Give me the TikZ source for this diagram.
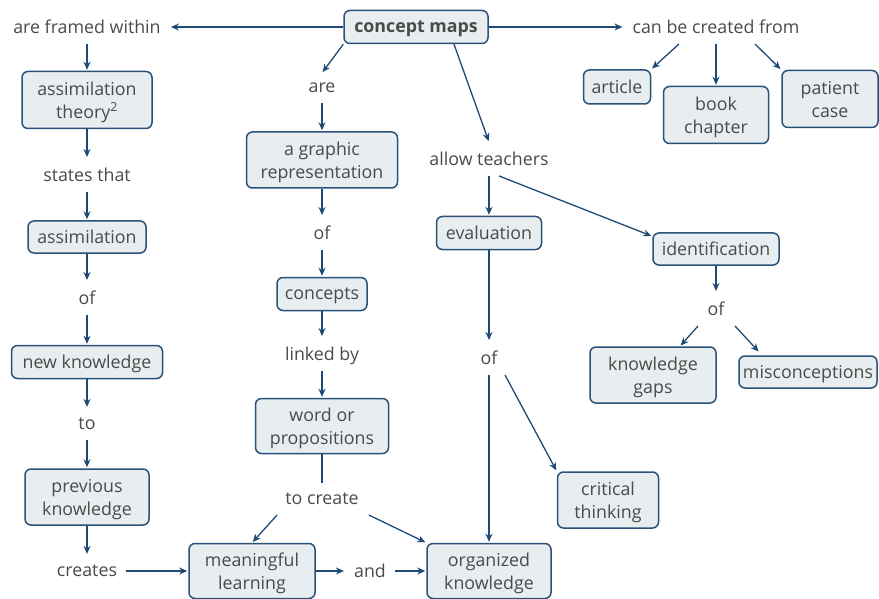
\documentclass[tikz,border=0pt]{standalone}
\usepackage{fontspec}
\setmainfont{Open Sans}
\usetikzlibrary{arrows.meta,calc}
\definecolor{edgeblue}{HTML}{1F4A75}
\definecolor{boxline}{HTML}{2A5279}
\definecolor{boxfill}{HTML}{E8EEF0}
\definecolor{inkgrey}{HTML}{4A4A4A}
\tikzset{
  concept/.style={draw=boxline, fill=boxfill, line width=1.5pt, rounded corners=6pt,
    text=inkgrey, align=center, inner sep=2pt, text depth=0pt},
  linkword/.style={text=inkgrey, align=center, inner xsep=9pt, inner ysep=10pt, text depth=0pt},
  arr/.style={draw=edgeblue, line width=1.3pt, -{Stealth[length=8pt,width=7pt]}, shorten >=1pt},
  plainline/.style={draw=edgeblue, line width=1.3pt},
}
\begin{document}
\begin{tikzpicture}[x=1pt,y=-1pt,font=\fontsize{17.8}{23}\selectfont]
\useasboundingbox (0,0) rectangle (879,599);

% top row
\node[concept, minimum width=144pt, minimum height=33pt, font=\fontsize{17.8}{23}\selectfont\bfseries] (cm) at (416,27) {concept maps};
\node[linkword] (frame) at (87,27) {are framed within};
\node[linkword] (cbcf) at (716,27) {can be created from};
\node[concept, minimum width=67pt, minimum height=34pt] (article) at (617,87) {article};
\node[concept, minimum width=105pt, minimum height=57pt] (book) at (716,115) {book\\chapter};
\node[concept, minimum width=96pt, minimum height=57pt] (patient) at (830,99) {patient\\case};

% left column
\node[concept, minimum width=130pt, minimum height=57pt] (asth) at (87,100) {assimilation\\theory\textsuperscript{2}};
\node[linkword] (states) at (87,175) {states that};
\node[concept, minimum width=118pt, minimum height=32pt] (assim) at (87,237) {assimilation};
\node[linkword] (of1) at (87,298) {of};
\node[concept, minimum width=151pt, minimum height=33pt] (newk) at (87,362) {new knowledge};
\node[linkword] (to) at (87,424) {to};
\node[concept, minimum width=124pt, minimum height=56pt] (prevk) at (87,497) {previous\\knowledge};
\node[linkword] (creates) at (87,571) {creates};
\node[concept, minimum width=126pt, minimum height=55pt] (ml) at (252,571) {meaningful\\learning};
\node[linkword] (and) at (370,571) {and};
\node[concept, minimum width=124pt, minimum height=55pt] (ok) at (489,571) {organized\\knowledge};

% middle column
\node[linkword] (are) at (322,88) {are};
\node[concept, minimum width=151pt, minimum height=56pt] (agr) at (322,160) {a graphic\\representation};
\node[linkword] (of2) at (322,233) {of};
\node[concept, minimum width=90pt, minimum height=33pt] (conc) at (322,294) {concepts};
\node[linkword] (linked) at (322,354) {linked by};
\node[concept, minimum width=133pt, minimum height=55pt] (wop) at (322,426) {word or\\propositions};
\node[linkword] (tocreate) at (322,499) {to create};

% teachers branch
\node[linkword] (allow) at (489,159) {allow teachers};
\node[concept, minimum width=105pt, minimum height=33pt] (eval) at (489,233) {evaluation};
\node[linkword] (of3) at (489,358) {of};
\node[concept, minimum width=101pt, minimum height=56pt] (ct) at (608,500) {critical\\thinking};
\node[concept, minimum width=126pt, minimum height=32pt] (ident) at (716,249) {identification};
\node[linkword] (of4) at (716,309) {of};
\node[concept, minimum width=126pt, minimum height=56pt] (kg) at (653,375) {knowledge\\gaps};
\node[concept, minimum width=138pt, minimum height=32pt] (misc) at (808,372) {misconceptions};

% connectors
\draw[arr] (cm.west) -- (frame.east);
\draw[arr] (cm.east) -- (cbcf.west);
\draw[arr] ($(cbcf.south)+(-37,0)$) -- (article.north east);
\draw[arr] (cbcf.south) -- (book.north);
\draw[arr] ($(cbcf.south)+(39,0)$) -- (patient.north west);

\draw[arr] (frame.south) -- (asth.north);
\draw[arr] (asth.south) -- (states.north);
\draw[arr] (states.south) -- (assim.north);
\draw[arr] (assim.south) -- (of1.north);
\draw[arr] (of1.south) -- (newk.north);
\draw[arr] (newk.south) -- (to.north);
\draw[arr] (to.south) -- (prevk.north);
\draw[arr] (prevk.south) -- (creates.north);
\draw[arr] (creates.east) -- (ml.west);
\draw[arr] (ml.east) -- (and.west);
\draw[arr] (and.east) -- (ok.west);

\draw[arr] (cm.south west) -- (are.north);
\draw[arr] (are.south) -- (agr.north);
\draw[arr] (agr.south) -- (of2.north);
\draw[arr] (of2.south) -- (conc.north);
\draw[arr] (conc.south) -- (linked.north);
\draw[arr] (linked.south) -- (wop.north);
\draw[plainline] (wop.south) -- (tocreate.north);
\draw[arr] ($(tocreate.south)+(-45,0)$) -- (ml.north);
\draw[arr] ($(tocreate.south)+(47,0)$) -- (ok.north west);

\draw[arr] ($(cm.south)+(38,0)$) -- (allow.north);
\draw[arr] (allow.south) -- (eval.north);
\draw[arr] ($(allow.south)+(10,0)$) -- ($(ident.north west)+(0,4)$);
\draw[arr] (eval.south) -- (of3.north);
\draw[arr] (of3.south) -- (ok.north);
\draw[arr] ($(of3.south)+(16,0)$) -- (ct.north west);
\draw[arr] (ident.south) -- (of4.north);
\draw[arr] ($(of4.south)+(-18,0)$) -- ($(kg.north)+(27,0)$);
\draw[arr] ($(of4.south)+(19,0)$) -- ($(misc.north west)+(21,-3)$);
\end{tikzpicture}
\end{document}
